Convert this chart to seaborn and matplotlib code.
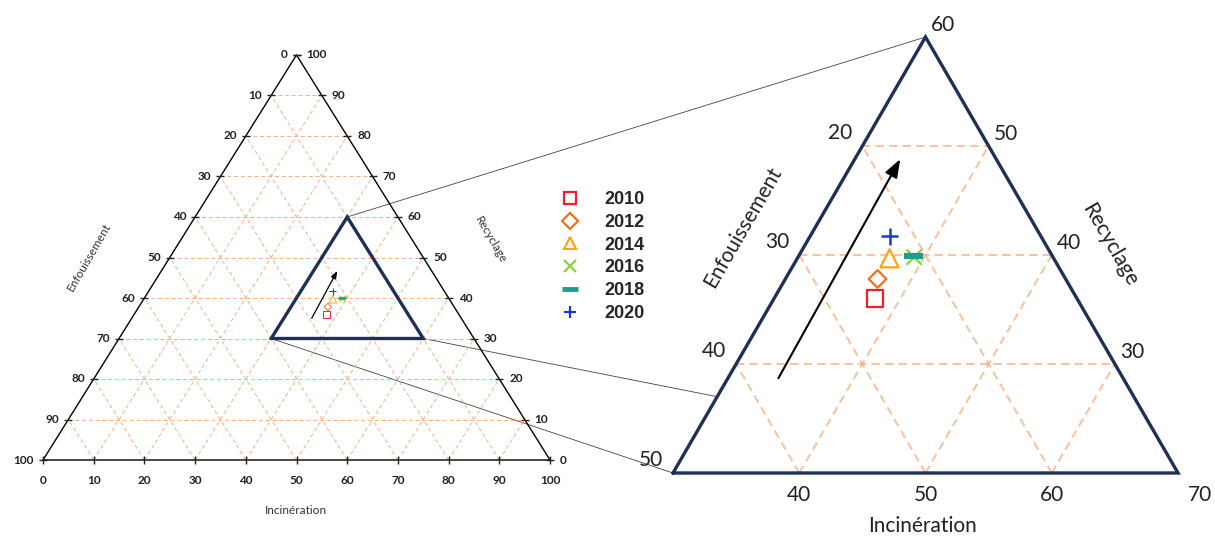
import numpy as np
import matplotlib
matplotlib.use("Agg")
import matplotlib.pyplot as plt
from matplotlib.markers import MarkerStyle
from matplotlib.lines import Line2D
from matplotlib.patches import ConnectionPatch
import seaborn as sns

# --- Données : part (%) de chaque filière par année ---
annees = ["2010", "2012", "2014", "2016", "2018", "2020"]
incineration = [38.0, 37.3, 37.3, 39.2, 39.1, 36.3]
recyclage = [36.0, 37.8, 39.7, 39.8, 39.9, 41.7]
enfouissement = [26.0, 24.9, 23.0, 21.0, 21.0, 22.0]

# flèche de tendance : (incinération, recyclage) début -> fin
fleche_globale = [(35.5, 35.0), (34.7, 46.7)]
fleche_zoom = [(34.0, 28.7), (33.6, 48.8)]

# sommets (incinération, recyclage) des triangles
sommets_global = [(0, 0), (100, 0), (0, 100)]
sommets_cadre = [(30, 30), (60, 30), (30, 60)]
sommets_zoom = [(30, 20), (70, 20), (30, 60)]
origine_zoom = (30, 20)
# points d'arrivée des lignes de zoom (même ordre que sommets_cadre)
liaison_zoom = [(30, 20), (30, 27), (30, 60)]

graduations = list(range(0, 101, 10))
grad_zoom_rec = [30, 40, 50]
grad_zoom_inc = [40, 50, 60]
grad_zoom_enf = [40, 30, 20]
labels_zoom_gauche = [20, 30, 40, 50]     # recyclage du point sur le bord gauche
labels_zoom_droite = [30, 40, 50, 60]
labels_zoom_bas = [40, 50, 60, 70]

# --- Style ---
couleurs = ["#f01e28", "#f0701e", "#ffa514", "#8cd23c", "#1a9e8f", "#1a3ccc"]
marqueurs = ["s", "D", "^", "x", "_", "+"]
tailles = [12, 9, 13, 11, 14, 12]
epaisseurs = [1.6, 1.6, 1.6, 1.6, 4.5, 1.8]
bleu = "#1f2f55"
grille = "#f4b183"

sns.set_theme(style="white")
plt.rcParams["font.family"] = ["Lato", "DejaVu Sans"]

W, H = 1215, 538
fig = plt.figure(figsize=(W / 100, H / 100), dpi=100)


def tern(inc, rec, i0=0, r0=0):
    inc = np.asarray(inc, float)
    rec = np.asarray(rec, float)
    return (inc - i0) + (rec - r0) / 2, rec - r0


def ligne(ax, pts, o, **kw):
    x, y = tern([p[0] for p in pts], [p[1] for p in pts], *o)
    ax.plot(x, y, clip_on=False, **kw)


def points(ax, o, k):
    for i in range(len(annees)):
        x, y = tern([incineration[i]], [recyclage[i]], *o)
        sns.scatterplot(x=x, y=y, ax=ax, marker=MarkerStyle(marqueurs[i], fillstyle="none"),
                        color=couleurs[i], s=(tailles[i] * k) ** 2,
                        linewidth=epaisseurs[i] * k, zorder=6, clip_on=False, legend=False)


def fleche(ax, f, o, lw, ms):
    ax.annotate("", xy=tern(*f[1], *o), xytext=tern(*f[0], *o),
                arrowprops=dict(arrowstyle="-|>,head_length=0.55,head_width=0.2",
                                color="black", lw=lw, mutation_scale=ms,
                                shrinkA=0, shrinkB=0), zorder=5)


# ================= Triangle global =================
axL = fig.add_axes([43 / W, 78 / H, 507 / W, 405 / H])
axL.set_xlim(0, 100)
axL.set_ylim(0, 100)
axL.axis("off")
o0 = (0, 0)

gkw = dict(color=grille, lw=0.7, ls=(0, (4, 3)), zorder=1)
for k in graduations[1:-1]:
    ligne(axL, [(0, k), (100 - k, k)], o0, **gkw)
    ligne(axL, [(k, 0), (k, 100 - k)], o0, **gkw)
    ligne(axL, [(100 - k, 0), (0, 100 - k)], o0, **gkw)

ligne(axL, sommets_global + sommets_global[:1], o0, color="black", lw=1.0, zorder=3)

g = np.array(graduations)
tk = dict(ls="none", color="#222222", ms=6, mew=1.0, clip_on=False, zorder=4)
axL.plot(*tern(g, 0 * g), marker="|", **tk)
axL.plot(*tern(0 * g, g), marker="_", **tk)
axL.plot(*tern(100 - g, g), marker="_", **tk)

lab = dict(textcoords="offset pixels", fontsize=8.5, fontweight="bold", color="#222222",
           va="center", annotation_clip=False)
for v in graduations:
    axL.annotate(str(v), tern(v, 0), xytext=(0, -20), ha="center", **lab)
    axL.annotate(str(100 - v), tern(0, v), xytext=(-9, 0), ha="right", **lab)
    axL.annotate(str(v), tern(100 - v, v), xytext=(10, 0), ha="left", **lab)

ligne(axL, sommets_cadre + sommets_cadre[:1], o0, color=bleu, lw=2.4, zorder=5,
      solid_joinstyle="miter")
points(axL, o0, 0.42)
fleche(axL, fleche_globale, o0, 0.9, 8)

fig.text(89 / W, 1 - 257 / H, "Enfouissement", rotation=60, ha="center", va="center",
         fontsize=8.5, color="#333333")
fig.text(491 / W, 1 - 240 / H, "Recyclage", rotation=-60, ha="center", va="center",
         fontsize=8.5, color="#333333")
fig.text(296 / W, 1 - 510 / H, "Incinération", ha="center", va="center",
         fontsize=8.5, color="#333333")

# ================= Triangle zoomé =================
axR = fig.add_axes([673 / W, 65 / H, 505 / W, 436 / H])
axR.set_xlim(0, 40)
axR.set_ylim(0, 40)
axR.axis("off")
oz = origine_zoom

gkw = dict(color=grille, lw=1.5, ls=(0, (4, 2.5)), alpha=0.75, zorder=1)
for r in grad_zoom_rec:
    ligne(axR, [(30, r), (90 - r, r)], oz, **gkw)
for i in grad_zoom_inc:
    ligne(axR, [(i, 20), (i, 90 - i)], oz, **gkw)
for e in grad_zoom_enf:
    ligne(axR, [(80 - e, 20), (30, 70 - e)], oz, **gkw)

ligne(axR, sommets_zoom + sommets_zoom[:1], oz, color=bleu, lw=2.4, zorder=5,
      solid_joinstyle="miter")
points(axR, oz, 1.0)
fleche(axR, fleche_zoom, oz, 1.5, 20)

lab = dict(textcoords="offset pixels", fontsize=15, color="#222222", ha="center",
           va="center", annotation_clip=False)
for r in labels_zoom_gauche:
    axR.annotate(str(70 - r), tern(30, r, *oz), xytext=(-22, 13), **lab)
for r in labels_zoom_droite:
    axR.annotate(str(r), tern(90 - r, r, *oz), xytext=(17, 12), **lab)
for i in labels_zoom_bas:
    dx = 22 if i == labels_zoom_bas[-1] else 0
    axR.annotate(str(i), tern(i, 20, *oz), xytext=(dx, -22), **lab)

fig.text(743 / W, 1 - 227 / H, "Enfouissement", rotation=60, ha="center", va="center",
         fontsize=15, color="#222222")
fig.text(1110 / W, 1 - 245 / H, "Recyclage", rotation=-60, ha="center", va="center",
         fontsize=15, color="#222222")
fig.text(922 / W, 1 - 526 / H, "Incinération", ha="center", va="center",
         fontsize=15, color="#222222")

# lignes de liaison entre le cadre et le zoom
for a, b in zip(sommets_cadre, liaison_zoom):
    con = ConnectionPatch(xyA=tern(*a), coordsA=axL.transData,
                          xyB=tern(*b, *oz), coordsB=axR.transData,
                          color="#444444", lw=0.6, zorder=0)
    fig.add_artist(con)

# --- Légende ---
poignees = [Line2D([], [], ls="none", marker=m, mfc="none", mec=c, color=c,
                   ms=8 if m not in ("_",) else 11, mew=1.6 if m != "_" else 3.5)
            for m, c in zip(marqueurs, couleurs)]
fig.legend(poignees, annees, loc="center left", bbox_to_anchor=(561 / W, 1 - 256.5 / H),
           frameon=False, prop=dict(family="Liberation Sans", weight="bold", size=13),
           labelspacing=0.32, handlelength=1.0, handletextpad=1.4,
           borderpad=0, borderaxespad=0)

fig.savefig("out.png", dpi=100)
